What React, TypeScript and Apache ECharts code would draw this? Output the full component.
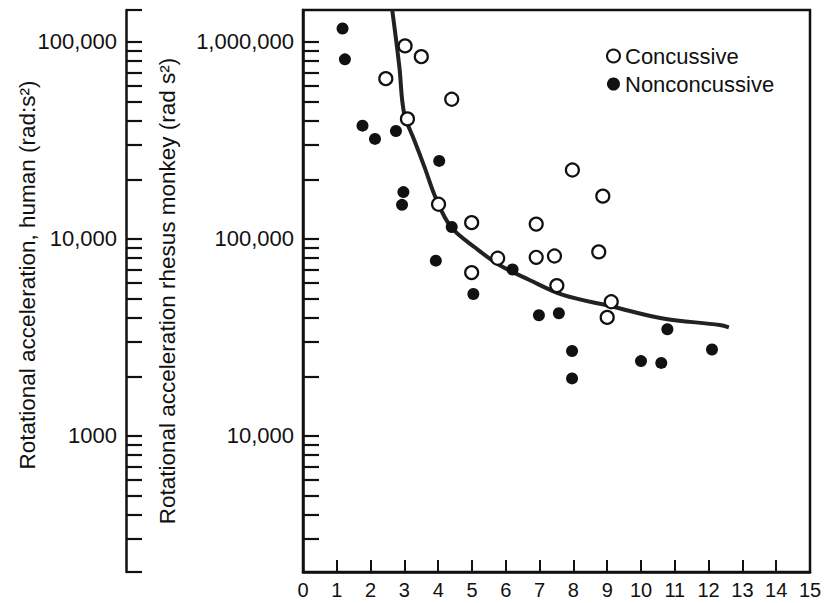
import React, { useEffect, useRef } from 'react';
import * as echarts from 'echarts';

// ---- data ----
const xTicks = [0, 1, 2, 3, 4, 5, 6, 7, 8, 9, 10, 11, 12, 13, 14, 15];

const monkeyLabelValues = [10000, 100000, 1000000];
const monkeyLabelTexts = ['10,000', '100,000', '1,000,000'];
const humanLabelValues = [1000, 10000, 100000];
const humanLabelTexts = ['1000', '10,000', '100,000'];

const monkeyTickValues = [
  3000, 4000, 5000, 6000, 7000, 8000, 9000, 10000,
  20000, 30000, 40000, 50000, 60000, 70000, 80000, 90000, 100000,
  200000, 300000, 400000, 500000, 600000, 700000, 800000, 900000, 1000000,
];
const humanTickValues = [
  204, 300, 400, 500, 600, 700, 800, 900, 1000,
  2000, 3000, 4000, 5000, 6000, 7000, 8000, 9000, 10000,
  20000, 30000, 40000, 50000, 60000, 70000, 80000, 90000, 100000, 145300,
];

const monkeyMin = 2040;
const monkeyMax = 1453000;
const humanMin = 204;
const humanMax = 145300;

const concussiveX = [3.02, 3.5, 2.45, 4.4, 3.09, 4.01, 4.99, 4.99, 5.76, 7.97, 8.87, 6.9, 6.9, 7.44, 8.75, 7.51, 9.12, 9.0];
const concussiveY = [955000, 842000, 651000, 512000, 407000, 150000, 121000, 67500, 79800, 224000, 165000, 119000, 80700, 82000, 86000, 58000, 48000, 40000];

const nonconX = [1.17, 1.24, 1.76, 2.13, 2.75, 4.03, 2.97, 2.93, 4.4, 3.93, 5.04, 6.2, 6.98, 7.57, 7.96, 7.96, 10.0, 10.6, 10.78, 12.1];
const nonconY = [1170000, 816000, 376000, 322000, 353000, 249000, 173000, 149000, 115000, 77600, 52600, 70000, 41000, 42000, 27000, 19600, 24000, 23500, 34800, 27500];

const curveX = [2.64, 2.85, 2.99, 3.29, 3.59, 3.93, 4.38, 5.12, 5.81, 6.7, 7.69, 9.17, 10.65, 12.33, 12.6];
const curveY = [1453000, 750000, 436000, 318000, 233000, 161000, 115000, 89700, 73700, 61900, 52000, 45300, 39500, 36600, 35600];

const FONT = '"Liberation Sans", Arial, Helvetica, sans-serif';
const INK = '#111';

function lookup(values: number[], texts: string[], v: number): string {
  const i = values.findIndex((t) => Math.abs(t - v) / t < 1e-6);
  return i >= 0 ? texts[i] : '';
}

export default function App() {
  const ref = useRef<HTMLDivElement>(null);

  useEffect(() => {
    if (!ref.current) return;
    const chart = echarts.init(ref.current, undefined, { renderer: 'svg' });

    const option: any = {
      animation: false,
      backgroundColor: '#fff',
      textStyle: { fontFamily: FONT, color: INK },
      grid: {
        left: 303,
        right: 19,
        top: 10,
        bottom: 31,
        show: true,
        borderColor: INK,
        borderWidth: 2.5,
        backgroundColor: 'transparent',
      },
      legend: {
        orient: 'vertical',
        left: 601,
        top: 40,
        itemGap: 6,
        itemWidth: 13,
        itemHeight: 13,
        textStyle: { fontSize: 22, color: INK, fontFamily: FONT },
        data: ['Concussive', 'Nonconcussive'],
      },
      xAxis: {
        type: 'value',
        min: xTicks[0],
        max: xTicks[xTicks.length - 1],
        interval: 1,
        axisLine: { show: true, lineStyle: { color: INK, width: 2.5 } },
        axisTick: { show: true, inside: true, length: 12, lineStyle: { color: INK, width: 2 } },
        axisLabel: { show: true, margin: 8, fontSize: 20, color: INK, fontFamily: FONT },
        splitLine: { show: false },
      },
      yAxis: [
        {
          type: 'log',
          logBase: 10,
          position: 'left',
          min: monkeyMin,
          max: monkeyMax,
          axisLine: { show: true, lineStyle: { color: INK, width: 2.5 } },
          axisTick: {
            show: true,
            inside: true,
            length: 16,
            customValues: monkeyTickValues,
            lineStyle: { color: INK, width: 2.2 },
          },
          axisLabel: {
            show: true,
            margin: 9,
            fontSize: 22,
            color: INK,
            fontFamily: FONT,
            customValues: monkeyLabelValues,
            formatter: (v: number) => lookup(monkeyLabelValues, monkeyLabelTexts, v),
          },
          splitLine: { show: false },
          minorTick: { show: false },
        },
        {
          type: 'log',
          logBase: 10,
          position: 'left',
          offset: 177,
          min: humanMin,
          max: humanMax,
          axisLine: { show: true, lineStyle: { color: INK, width: 2.5 } },
          axisTick: {
            show: true,
            inside: true,
            length: 16,
            customValues: humanTickValues,
            lineStyle: { color: INK, width: 2.2 },
          },
          axisLabel: {
            show: true,
            margin: 9,
            fontSize: 22,
            color: INK,
            fontFamily: FONT,
            customValues: humanLabelValues,
            formatter: (v: number) => lookup(humanLabelValues, humanLabelTexts, v),
          },
          splitLine: { show: false },
        },
      ],
      graphic: [
        {
          type: 'text',
          x: 27,
          y: 275,
          rotation: Math.PI / 2,
          style: {
            text: 'Rotational acceleration, human (rad:s²)',
            fontSize: 22.5,
            fontFamily: FONT,
            fill: INK,
            textAlign: 'center',
            textVerticalAlign: 'middle',
            align: 'center',
            verticalAlign: 'middle',
          },
        },
        {
          type: 'text',
          x: 167,
          y: 291,
          rotation: Math.PI / 2,
          style: {
            text: 'Rotational acceleration rhesus monkey (rad s²)',
            fontSize: 22.5,
            fontFamily: FONT,
            fill: INK,
            textAlign: 'center',
            textVerticalAlign: 'middle',
            align: 'center',
            verticalAlign: 'middle',
          },
        },
      ],
      series: [
        {
          name: 'Fit',
          type: 'line',
          data: curveX.map((x, i) => [x, curveY[i]]),
          showSymbol: false,
          smooth: 0.35,
          lineStyle: { color: '#222', width: 4 },
          z: 2,
          silent: true,
        },
        {
          name: 'Concussive',
          type: 'scatter',
          data: concussiveX.map((x, i) => [x, concussiveY[i]]),
          symbol: 'circle',
          symbolSize: 13,
          itemStyle: { color: '#fff', borderColor: INK, borderWidth: 2.2, opacity: 1 },
          z: 4,
        },
        {
          name: 'Nonconcussive',
          type: 'scatter',
          data: nonconX.map((x, i) => [x, nonconY[i]]),
          symbol: 'circle',
          symbolSize: 12,
          itemStyle: { color: INK, opacity: 1 },
          z: 3,
        },
      ],
    };

    chart.setOption(option);
    return () => chart.dispose();
  }, []);

  return (
    <div
      ref={ref}
      style={{ position: 'fixed', left: 0, top: 0, width: 829, height: 603, background: '#fff' }}
    />
  );
}
